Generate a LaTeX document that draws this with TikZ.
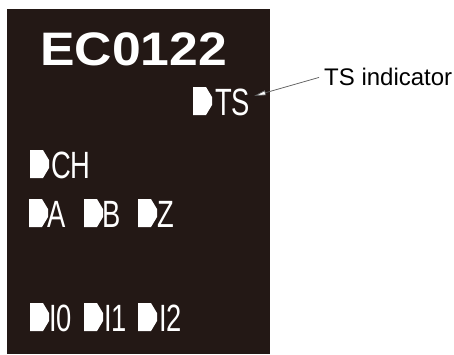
\documentclass[tikz,border=0pt]{standalone}
\usepackage{fontspec}
\setmainfont{Liberation Sans}
\newfontfamily\narrowfont[FakeStretch=0.72]{Liberation Sans}
\newfontfamily\widefont[FakeStretch=1.1]{Liberation Sans}
\usetikzlibrary{arrows.meta}
\definecolor{panel}{HTML}{231815}
\newcommand\tagm[1]{\fill[white] #1 -- ++(13,0) -- ++(6,-10) -- ++(0,-8) -- ++(-6,-10) -- ++(-13,0) -- cycle;}
\begin{document}
\begin{tikzpicture}[x=1pt,y=-1pt,
  lbl/.style={inner sep=0pt,anchor=base west,text=white,font=\narrowfont\fontsize{38}{42}\selectfont},
  callout/.style={draw=black!65,line width=0.7pt,-{Triangle[open,length=12pt,width=5pt,fill=white]}}]
\useasboundingbox (0,0) rectangle (454,354);
\fill[panel] (7,9) rectangle (270,354);
\node[inner sep=0pt,anchor=base west,text=white,font=\widefont\bfseries\fontsize{47}{50}\selectfont] (title) at (40,65) {EC0122};
% TS
\tagm{(193,115)}
\node[lbl] (ts) at (215,115) {TS};
% CH
\tagm{(30,178)}
\node[lbl] (ch) at (51,178) {CH};
% A B Z
\tagm{(29,227)}
\node[lbl] (a) at (47,227) {A};
\tagm{(84,227)}
\node[lbl] (b) at (102,227) {B};
\tagm{(138,227)}
\node[lbl] (z) at (157,227) {Z};
% I0 I1 I2
\tagm{(30,331)}
\node[lbl] (i0) at (49,331) {I0};
\tagm{(84,331)}
\node[lbl] (i1) at (104,331) {I1};
\tagm{(138,331)}
\node[lbl] (i2) at (159,331) {I2};
% callout
\node[inner sep=0pt,anchor=base west,font=\fontsize{24}{27}\selectfont] (ind) at (324,85) {TS indicator};
\coordinate (tip) at (254,96);
\draw[callout] ([xshift=-5pt,yshift=-1pt]ind.west) -- (tip);
\end{tikzpicture}
\end{document}
